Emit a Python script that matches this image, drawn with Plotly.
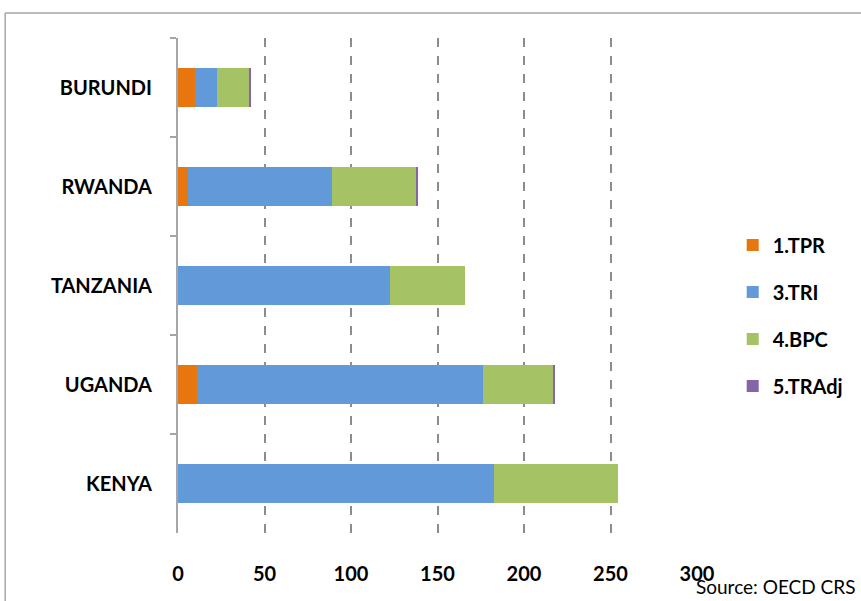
import plotly.graph_objects as go

countries = ["BURUNDI", "RWANDA", "TANZANIA", "UGANDA", "KENYA"]
tpr = [10, 5.5, 0, 11, 0]
tri = [12.5, 83.5, 122.5, 165.5, 182.5]
bpc = [19, 49, 43.5, 40.5, 72]
tradj = [0.5, 0.7, 0, 1, 0]
ticks = [0, 50, 100, 150, 200, 250, 300]

font = "Lato"

fig = go.Figure()
series = [("1.TPR", tpr, "#E8760E"), ("3.TRI", tri, "#6299D9"),
          ("4.BPC", bpc, "#A5C264"), ("5.TRAdj", tradj, "#8466A8")]
for name, vals, color in series:
    fig.add_trace(go.Bar(y=countries, x=vals, name=name, orientation='h',
                         marker=dict(color=color, line=dict(width=0)),
                         legendgroup=name))

fig.update_layout(
    barmode='stack', bargap=0.6,
    width=861, height=601,
    margin=dict(l=178, r=164, t=38, b=68, autoexpand=False),
    plot_bgcolor='white', paper_bgcolor='white',
    font=dict(family=font, size=20, color='black'),
    showlegend=True,
    legend=dict(xref='container', yref='container', x=0.851, y=0.625,
                xanchor='left', yanchor='top',
                traceorder='grouped', tracegroupgap=18,
                font=dict(family=font, size=20, color='black', weight='bold')),
    xaxis=dict(range=[0, 300], tickvals=ticks, showgrid=True, gridcolor='#8c8c8c',
               griddash='dash', gridwidth=1.5, zeroline=False, showline=False,
               ticks='', ticklabelstandoff=27, automargin=False,
               tickfont=dict(family=font, size=20, weight='bold')),
    yaxis=dict(autorange='reversed', showline=True, linecolor='#a6a6a6', linewidth=2,
               ticks='outside', tickson='boundaries', ticklen=6, tickcolor='#a6a6a6',
               tickwidth=1.5, ticklabelstandoff=20, showgrid=False, automargin=False,
               tickfont=dict(family=font, size=20, weight='bold')),
)

# outer chart frame (top and left edges visible)
fig.add_shape(type='line', xref='paper', yref='paper', x0=-0.333, x1=1.4, y0=1.0505, y1=1.0505,
              line=dict(color='#a6a6a6', width=1.5))
fig.add_shape(type='line', xref='paper', yref='paper', x0=-0.333, x1=-0.333, y0=1.0505, y1=-0.2,
              line=dict(color='#a6a6a6', width=1.5))

fig.add_annotation(text="Source: OECD CRS", xref='paper', yref='paper', x=1.31, y=-0.109,
                   xanchor='right', yanchor='middle', showarrow=False,
                   font=dict(family=font, size=19, color='black'))

# drop the default page margin so the figure sits at the window's top-left
fig.write_html("out.html", config={'displayModeBar': False},
               post_script="document.body.style.margin='0';")
